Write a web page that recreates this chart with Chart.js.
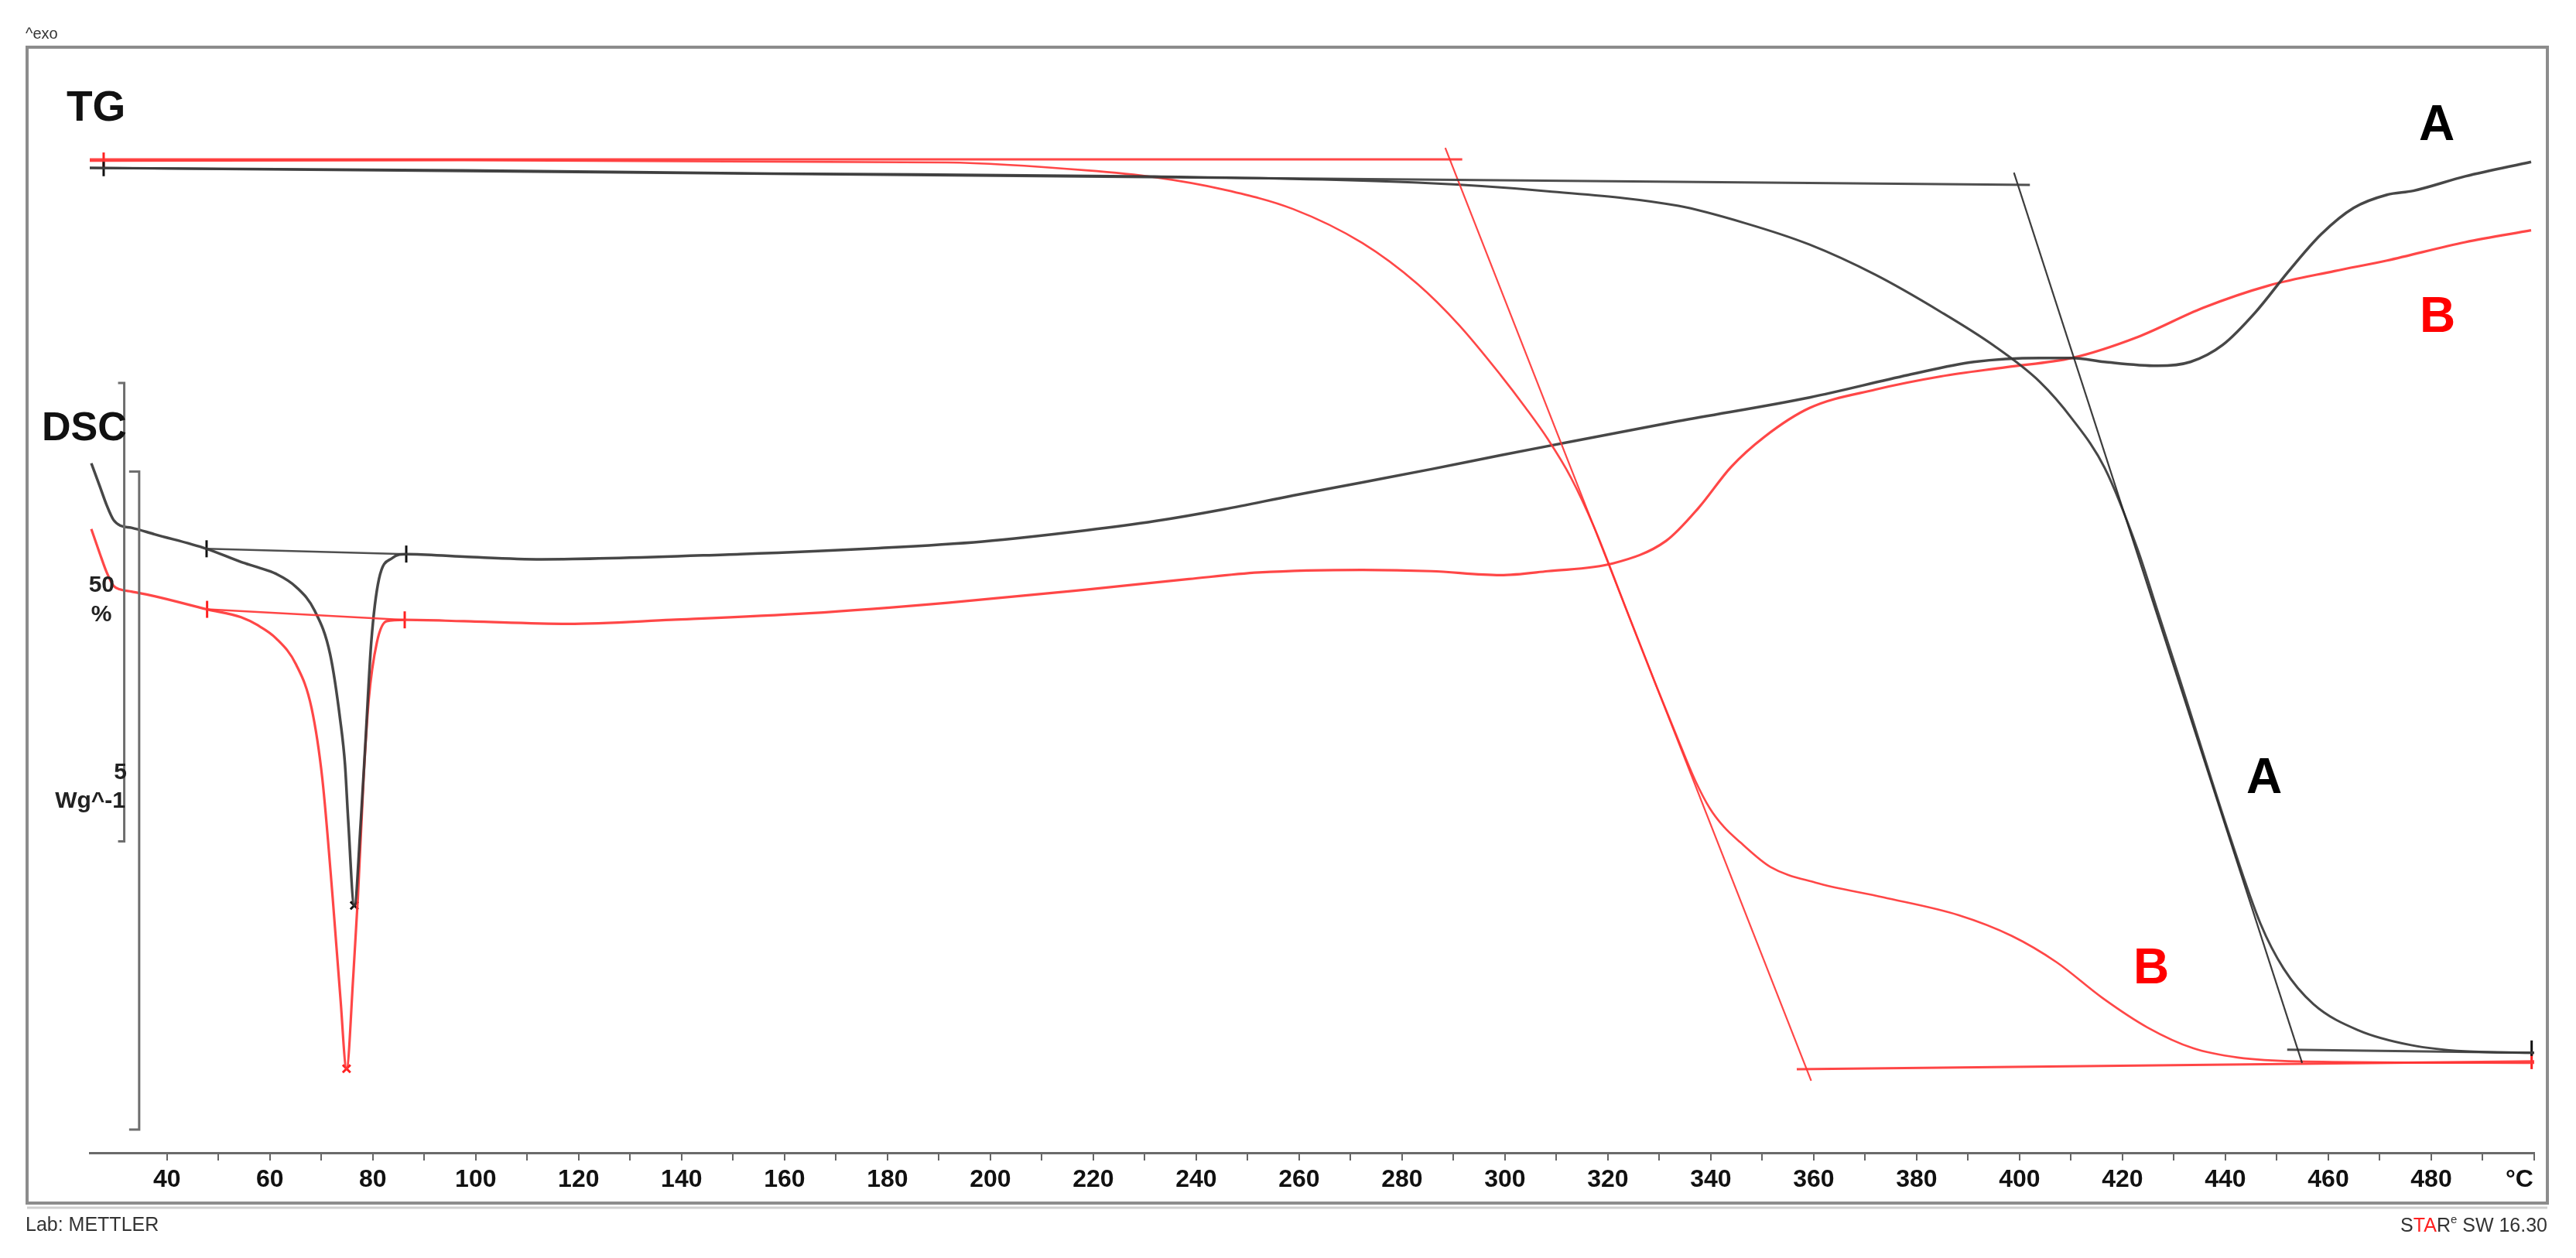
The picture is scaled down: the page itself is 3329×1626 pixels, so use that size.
<!DOCTYPE html>
<html><head><meta charset="utf-8">
<script src="https://cdn.jsdelivr.net/npm/chart.js@4.4.1/dist/chart.umd.min.js"></script>
<style>html,body{margin:0;padding:0;background:#fff;}#wrap{width:3329px;height:1626px;}</style>
</head><body><div id="wrap"><canvas id="c" width="3329" height="1626"></canvas></div>
<script>
// ---------- DATA (temperature in °C, TG in %, DSC in W/g) ----------
const xTickLabels = [40,60,80,100,120,140,160,180,200,220,240,260,280,300,320,340,360,380,400,420,440,460,480];
const xUnit = '°C';

const tgA_T = [25, 97.7, 157.9, 232, 283, 308.3, 333.7, 346.5, 359.2, 372.0, 384.7, 394.9, 403.9, 410.2, 416.5, 423.0, 426.8, 430.7, 440.9, 446.8, 451.3, 457.1, 465.9, 476.1, 486.5, 500];
const tgA   = [99.16, 98.90, 98.56, 98.23, 97.55, 96.62, 95.02, 93.16, 90.79, 87.50, 83.45, 79.81, 75.84, 71.79, 66.47, 57.43, 50.84, 44.09, 26.18, 16.72, 11.82, 7.94, 5.07, 3.46, 2.79, 2.62];

const tgB_T = [25, 97.7, 191.7, 218.6, 232, 245.4, 258.8, 272.3, 283, 291.1, 299.1, 304, 308.3, 312.8, 317.3, 323.3, 329.3, 334, 337, 339.8, 342.5, 345.7, 351.6, 360.3, 373.5, 388.1, 398.5, 407.2, 416.1, 424.8, 433.7, 442.4, 454.1, 500];
const tgB   = [99.92, 100, 99.75, 98.9, 98.14, 96.79, 94.68, 90.96, 86.5, 82.0, 76.6, 73.0, 69.6, 65.4, 60.0, 51.4, 42.8, 36.3, 32.3, 29.3, 27.3, 25.6, 22.9, 21.2, 19.59, 17.65, 15.37, 12.5, 8.61, 5.41, 3.13, 2.11, 1.69, 1.52];

const dscA_T = [25.3, 26.9, 28.3, 29.6, 31.0, 33.1, 37.6, 47.7, 54.4, 57.6, 61.2, 65.1, 68.7, 71.7, 73.7, 74.6, 75.2, 76.4, 77.7, 78.6, 79.7, 81.2, 83.8, 86.5, 97.7, 112.8, 151.4, 178.3, 198.5, 218.6, 232.0, 245.4, 258.8, 272.3, 285.7, 299.1, 308.3, 333.7, 359.2, 378.3, 391.1, 403.9, 410.2, 416.5, 426.8, 433.2, 439.5, 445.9, 452.3, 458.6, 464.9, 471.4, 476.5, 486.6, 499.4];
const dscA   = [0.71, 0.54, 0.39, 0.28, 0.235, 0.22, 0.17, 0.06, -0.04, -0.08, -0.13, -0.23, -0.41, -0.74, -1.25, -1.58, -1.99, -2.65, -1.99, -1.39, -0.65, -0.17, -0.01, 0.02, 0.0, -0.02, 0.02, 0.065, 0.115, 0.20, 0.27, 0.36, 0.465, 0.565, 0.665, 0.77, 0.84, 1.03, 1.21, 1.38, 1.48, 1.51, 1.51, 1.48, 1.45, 1.48, 1.61, 1.86, 2.17, 2.45, 2.65, 2.75, 2.78, 2.89, 3.00];

const dscB_T = [25.3, 26.9, 28.3, 29.6, 31.0, 33.1, 37.6, 47.8, 54.4, 57.6, 61.2, 65.1, 68.1, 70.2, 72.2, 73.7, 74.9, 76.2, 77.1, 78.2, 79.2, 80.8, 82.7, 86.2, 97.7, 117.9, 138.0, 164.8, 191.7, 218.6, 238.6, 252.2, 272.3, 285.7, 299.1, 308.3, 321.1, 331.3, 337.6, 343.9, 350.4, 359.2, 372.0, 384.7, 397.4, 410.2, 423.0, 435.6, 448.4, 461.2, 471.4, 486.6, 499.4];
const dscB   = [0.21, 0.03, -0.12, -0.22, -0.25, -0.265, -0.30, -0.40, -0.46, -0.52, -0.62, -0.82, -1.15, -1.69, -2.59, -3.35, -3.89, -3.19, -2.59, -1.69, -1.09, -0.65, -0.49, -0.48, -0.49, -0.51, -0.48, -0.43, -0.35, -0.25, -0.17, -0.12, -0.10, -0.11, -0.14, -0.11, -0.05, 0.12, 0.37, 0.68, 0.91, 1.13, 1.27, 1.37, 1.44, 1.51, 1.67, 1.89, 2.06, 2.17, 2.25, 2.39, 2.48];

// evaluation lines (onset tangents and baselines)
const tanA_base_T = [25, 402],     tanA_base = [99.16, 97.30];
const tanA_step_T = [398.9, 454.9], tanA_step = [98.65, 1.52];
const tanA_end_T  = [452, 500],    tanA_end  = [2.96, 2.62];
const tanB_base_T = [25, 291.7],   tanB_base = [100.1, 100.1];
const tanB_step_T = [288.4, 359.5], tanB_step = [101.35, -0.42];
const tanB_end_T  = [356.7, 500],  tanB_end  = [0.84, 1.69];
const basA_T = [47.7, 86.5], basA = [0.06, 0.02];
const basB_T = [47.8, 86.2], basB = [-0.40, -0.48];
// evaluation markers
const limA_T = [47.7, 86.5], limA = [0.06, 0.02];
const limB_T = [47.8, 86.2], limB = [-0.40, -0.48];
const peakA_T = [76.4], peakA = [-2.65];
const peakB_T = [74.9], peakB = [-3.89];
const tgLimA_T = [27.7, 499.5], tgLimA = [99.1, 3.13];
const tgLimB_T = [27.7, 499.5], tgLimB = [100.0, 1.69];
// scale bars
const barTG = {T: 31.7, top: 75.7, span: 50};   // 50 %
const barDSC = {T: 34.6, top: 0.647, span: 5};  // 5 W/g

// axis ranges
const xMin = 25, xMax = 500;
const tgMin = -8.28, tgMax = 112.33;
const dscMin = -4.529, dscMax = 3.871;

// ---------- helpers ----------
const pts = (xs, ys) => xs.map((x, i) => ({x: x, y: ys[i]}));
const GREY = 'rgba(55,55,55,0.92)';
const RED = 'rgba(255,55,55,0.92)';
function curve(label, xs, ys, color, axis, w) {
  return {label, data: pts(xs, ys), yAxisID: axis, borderColor: color, borderWidth: w || 3.5,
    pointRadius: 0, fill: false, cubicInterpolationMode: 'monotone'};
}
function seg(label, xs, ys, color, axis, w) {
  return {label, data: pts(xs, ys), yAxisID: axis, borderColor: color, borderWidth: w || 2.2,
    pointRadius: 0, fill: false, tension: 0};
}
function marks(label, xs, ys, color, axis, style, r) {
  return {label, data: pts(xs, ys), yAxisID: axis, showLine: false, borderColor: color,
    backgroundColor: color, pointStyle: style, pointRadius: r, pointBorderWidth: 3,
    pointRotation: style === 'line' ? 90 : 0};
}

const decor = {
  id: 'decor',
  beforeDraw(chart) {
    const c = chart.ctx;
    c.save();
    c.fillStyle = '#fff'; c.fillRect(0, 0, chart.width, chart.height);
    c.strokeStyle = '#8c8c8c'; c.lineWidth = 4;
    c.strokeRect(35, 61, 3257, 1494);
    c.strokeStyle = '#cfcfcf'; c.lineWidth = 3;
    c.beginPath(); c.moveTo(35, 1561); c.lineTo(3292, 1561); c.stroke();
    c.restore();
  },
  afterDraw(chart) {
    const c = chart.ctx, xs = chart.scales.x, yT = chart.scales.yTG, yD = chart.scales.yDSC;
    c.save();
    c.strokeStyle = '#6e6e6e'; c.lineWidth = 3;
    const bar = (x, y0, y1, hook) => {
      c.beginPath(); c.moveTo(x - hook, y0); c.lineTo(x, y0); c.lineTo(x, y1); c.lineTo(x - hook, y1); c.stroke();
    };
    bar(xs.getPixelForValue(barTG.T), yT.getPixelForValue(barTG.top), yT.getPixelForValue(barTG.top - barTG.span), 8);
    bar(xs.getPixelForValue(barDSC.T), yD.getPixelForValue(barDSC.top), yD.getPixelForValue(barDSC.top - barDSC.span), 13);
    c.textBaseline = 'middle';
    c.fillStyle = '#111';
    c.font = 'bold 55px "Liberation Sans", Arial, sans-serif';
    c.textAlign = 'left';
    c.fillText('TG', 86, 141);
    c.font = 'bold 52px "Liberation Sans", Arial, sans-serif';
    c.fillText('DSC', 54, 555);
    c.font = 'bold 30px "Liberation Sans", Arial, sans-serif';
    c.textAlign = 'right';
    c.fillStyle = '#222';
    c.fillText('50', 148, 757);
    c.fillText('5', 164, 999);
    c.fillText('Wg^-1', 162, 1036);
    c.textAlign = 'center';
    c.fillText('%', 131, 795);
    c.font = 'bold 64px "Liberation Sans", Arial, sans-serif';
    c.fillStyle = '#000';
    c.fillText('A', 3149, 163);
    c.fillText('A', 2926, 1007);
    c.fillStyle = '#ff0000';
    c.fillText('B', 3150, 411);
    c.fillText('B', 2780, 1253);
    c.font = 'bold 32px "Liberation Sans", Arial, sans-serif';
    c.fillStyle = '#111';
    c.fillText(xUnit, 3256, 1525);
    c.textAlign = 'left';
    c.fillStyle = '#333';
    c.font = '20px "Liberation Sans", Arial, sans-serif';
    c.fillText('^exo', 33, 44);
    c.font = '25px "Liberation Sans", Arial, sans-serif';
    c.fillText('Lab: METTLER', 33, 1584);
    c.textAlign = 'right';
    const tail = ' SW 16.30';
    let xr = 3292;
    c.fillStyle = '#333'; c.fillText(tail, xr, 1585); xr -= c.measureText(tail).width;
    c.font = '15px "Liberation Sans", Arial, sans-serif';
    c.fillText('e', xr, 1577); xr -= c.measureText('e').width;
    c.font = '25px "Liberation Sans", Arial, sans-serif';
    c.fillText('R', xr, 1585); xr -= c.measureText('R').width;
    c.fillStyle = '#ff2020'; c.fillText('TA', xr, 1585); xr -= c.measureText('TA').width;
    c.fillStyle = '#333'; c.fillText('S', xr, 1585);
    c.restore();
  }
};

const datasets = [
  seg('TG A baseline', tanA_base_T, tanA_base, 'rgba(60,60,60,0.9)', 'yTG', 3),
  seg('TG A tangent', tanA_step_T, tanA_step, 'rgba(40,40,40,0.9)', 'yTG', 2.2),
  seg('TG A end', tanA_end_T, tanA_end, 'rgba(60,60,60,0.9)', 'yTG', 3),
  seg('TG B baseline', tanB_base_T, tanB_base, 'rgba(255,50,50,0.9)', 'yTG', 3),
  seg('TG B tangent', tanB_step_T, tanB_step, 'rgba(255,50,50,0.9)', 'yTG', 2.2),
  seg('TG B end', tanB_end_T, tanB_end, 'rgba(255,50,50,0.9)', 'yTG', 3),
  seg('DSC A baseline', basA_T, basA, 'rgba(60,60,60,0.9)', 'yDSC', 2.5),
  seg('DSC B baseline', basB_T, basB, 'rgba(255,50,50,0.9)', 'yDSC', 2.5),
  curve('TG A', tgA_T, tgA, GREY, 'yTG', 3),
  curve('TG B', tgB_T, tgB, RED, 'yTG', 2.6),
  curve('DSC A', dscA_T, dscA, GREY, 'yDSC', 3.5),
  curve('DSC B', dscB_T, dscB, RED, 'yDSC', 3.2),
  marks('lim A', limA_T, limA, '#111', 'yDSC', 'line', 11),
  marks('lim B', limB_T, limB, '#ff2020', 'yDSC', 'line', 11),
  marks('peak A', peakA_T, peakA, '#111', 'yDSC', 'crossRot', 7),
  marks('peak B', peakB_T, peakB, '#ff2020', 'yDSC', 'crossRot', 7),
  marks('TG lim A', tgLimA_T, tgLimA, '#111', 'yTG', 'line', 10),
  marks('TG lim B', tgLimB_T, tgLimB, '#ff2020', 'yTG', 'line', 10)
];

new Chart(document.getElementById('c'), {
  type: 'line',
  data: {datasets},
  options: {
    responsive: false, animation: false, devicePixelRatio: 1,
    layout: {padding: {left: 116, right: 54, top: 61, bottom: 66}},
    plugins: {legend: {display: false}, tooltip: {enabled: false}},
    scales: {
      x: {
        type: 'linear', min: xMin, max: xMax, position: 'bottom',
        afterFit: (s) => { s.height = 70; },
        afterBuildTicks: (s) => { s.ticks = s.ticks.filter(t => t.value % 10 === 0 && t.value >= 30); },
        ticks: {
          stepSize: 10, autoSkip: false, maxRotation: 0, padding: 6, color: '#111',
          font: {family: '"Liberation Sans", Arial, sans-serif', size: 32, weight: 'bold'},
          callback: (v) => xTickLabels.includes(v) ? String(v) : ''
        },
        grid: {drawOnChartArea: false, drawTicks: true, tickLength: 10, color: '#666', lineWidth: 2},
        border: {display: true, color: '#6a6a6a', width: 3}
      },
      yTG: {type: 'linear', min: tgMin, max: tgMax, display: false},
      yDSC: {type: 'linear', min: dscMin, max: dscMax, display: false}
    }
  },
  plugins: [decor]
});
</script></body></html>
